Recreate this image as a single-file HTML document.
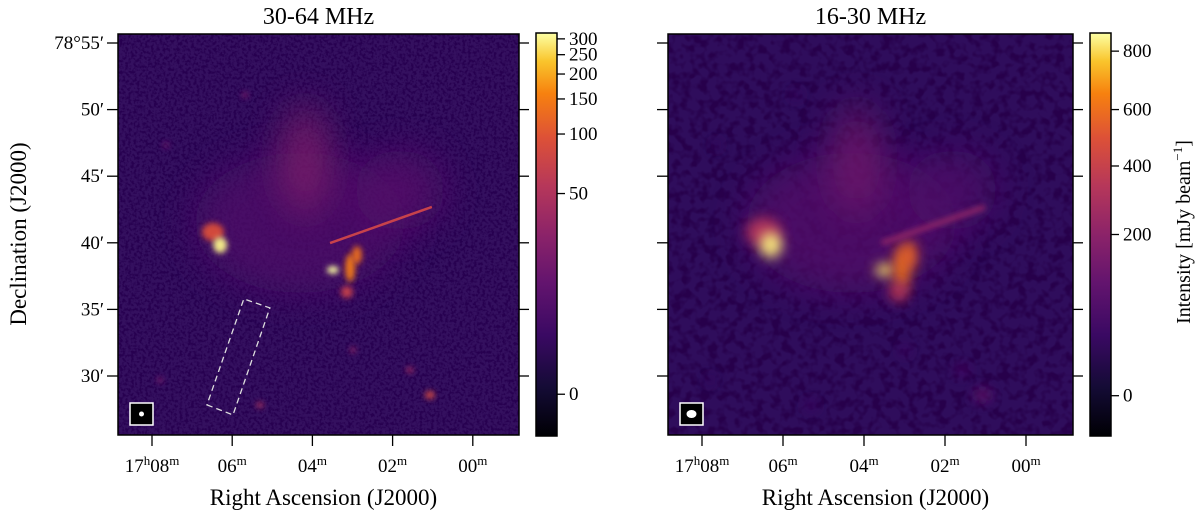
<!DOCTYPE html>
<html><head><meta charset="utf-8">
<style>
html,body{margin:0;padding:0;background:#fff;}
svg{display:block;font-family:"Liberation Serif","DejaVu Serif",serif;}
</style></head>
<body>
<svg id="fig" width="1200" height="519" viewBox="0 0 1200 519" xmlns="http://www.w3.org/2000/svg">
<defs>
  <linearGradient id="inferno" x1="0" y1="1" x2="0" y2="0">
    <stop offset="0" stop-color="#000004"/><stop offset="0.12" stop-color="#140b35"/>
    <stop offset="0.25" stop-color="#3a0963"/><stop offset="0.38" stop-color="#63146e"/>
    <stop offset="0.5" stop-color="#8c2369"/><stop offset="0.62" stop-color="#b6375a"/>
    <stop offset="0.74" stop-color="#dd5137"/><stop offset="0.85" stop-color="#f7810f"/>
    <stop offset="0.93" stop-color="#f9c52c"/><stop offset="1" stop-color="#fcffa4"/>
  </linearGradient>
  <filter id="noise" x="0" y="0" width="100%" height="100%">
    <feTurbulence type="fractalNoise" baseFrequency="0.35" numOctaves="2" seed="3"/>
    <feColorMatrix type="matrix" values="0 0 0 0 0.02  0 0 0 0 0.0  0 0 0 0 0.08  4 0 0 0 -1.7"/>
  </filter>
  <filter id="noise2" x="0" y="0" width="100%" height="100%">
    <feTurbulence type="fractalNoise" baseFrequency="0.11" numOctaves="2" seed="7"/>
    <feColorMatrix type="matrix" values="0 0 0 0 0.02  0 0 0 0 0.0  0 0 0 0 0.07  4 0 0 0 -1.75"/>
  </filter>
  <filter id="blurA" x="-200%" y="-200%" width="500%" height="500%"><feGaussianBlur stdDeviation="3"/></filter>
  <filter id="blurB" x="-200%" y="-200%" width="500%" height="500%"><feGaussianBlur stdDeviation="6"/></filter>
  <filter id="blurBig" x="-100%" y="-100%" width="300%" height="300%"><feGaussianBlur stdDeviation="18"/></filter>
  <clipPath id="clipL"><rect x="118" y="34" width="401" height="401"/></clipPath>
  <clipPath id="clipR"><rect x="668" y="34" width="405" height="401"/></clipPath>
</defs>
<g id="root"></g>
</svg>
<script>
// ---- data ----
const srcNames = ['diffuse-halo','north-plume','west-lobe','east-lobe-blob','east-core','central-core','jet-a','jet-b','jet-tail','spot-1','spot-2','spot-3','spot-4','spot-5','spot-6','spot-7'];
const srcRA   = [4.31, 4.18, 1.82, 6.48, 6.30, 3.49, 3.06, 2.89, 3.14, 7.65, 5.68, 7.80, 1.07, 1.57, 2.99, 5.31];
const srcDec  = [41.50,46.22,43.96,40.81,39.83,37.96,38.11,39.08,36.31,47.34,51.10,29.70,28.57,30.45,31.95,27.82];
const fluxHigh = [12, 28, 14, 90, 300, 320, 150, 130, 70, 20, 25, 25, 80, 40, 35, 45];
const fluxLow  = [120, 170, 110, 330, 850, 820, 600, 560, 350, 60, 70, 60, 150, 110, 90, 80];
const jetRA  = [3.56, 1.02];
const jetDec = [39.98, 42.69];
const jetHigh = 70, jetLow = 220;
const regionRA  = [6.63, 5.98, 5.06, 5.71];
const regionDec = [27.83, 27.08, 35.11, 35.79];
const raTicks = [8, 6, 4, 2, 0];
const raLabels = [['17','h','08','m'],['','','06','m'],['','','04','m'],['','','02','m'],['','','00','m']];
const decTicks = [55, 50, 45, 40, 35, 30];
const decLabels = ["78°55′","50′","45′","40′","35′","30′"];
const cbHighTicks = [0, 50, 100, 150, 200, 250, 300];
const cbLowTicks = [0, 200, 400, 600, 800];
const cbLowStretchV = [-150, 0, 200, 400, 600, 800, 900];
const cbLowStretchF = [0, 0.1, 0.5, 0.67, 0.81, 0.955, 1.0];

// ---- helpers ----
const NS = 'http://www.w3.org/2000/svg';
const root = document.getElementById('root');
function mk(tag, attrs, parent){ const e=document.createElementNS(NS,tag); for(const k in attrs) e.setAttribute(k,attrs[k]); (parent||root).appendChild(e); return e; }
const panels = [{x0:118,w:401,clip:'clipL',cbX:536,name:'high'},{x0:668,w:405,clip:'clipR',cbX:1090,name:'low'}];
const Y0=34, H=401;
function xOf(p, ra){ return p.x0 + 34 + (8-ra)*40.1*(p.w/401); }
function yOf(dec){ return 43 + (55-dec)*13.32; }
const infStops=[[0,[0,0,4]],[.12,[20,11,53]],[.25,[58,9,99]],[.38,[99,20,110]],[.5,[140,35,105]],[.62,[182,55,90]],[.74,[221,81,55]],[.85,[247,129,15]],[.93,[249,197,44]],[1,[252,255,164]]];
function inferno(t){ t=Math.max(0,Math.min(1,t)); for(let i=1;i<infStops.length;i++){ if(t<=infStops[i][0]){ const a=infStops[i-1],b=infStops[i]; const f=(t-a[0])/(b[0]-a[0]); const c=a[1].map((v,k)=>Math.round(v+(b[1][k]-v)*f)); return `rgb(${c})`; } } return 'rgb(252,255,164)'; }
function stretchHigh(v){ const a=10, vmin=-5, vmax=321; const s=x=>Math.asinh(x/a); return (s(v)-s(vmin))/(s(vmax)-s(vmin)); }
function stretchLow(v){ for(let i=1;i<cbLowStretchV.length;i++){ if(v<=cbLowStretchV[i]){ const f=(v-cbLowStretchV[i-1])/(cbLowStretchV[i]-cbLowStretchV[i-1]); return cbLowStretchF[i-1]+f*(cbLowStretchF[i]-cbLowStretchF[i-1]); } } return 1; }
const srcSize = [[105,70],[24,55],[45,40],[11,9],[7,8],[6,4],[5,14],[5,9],[6,6],[3,3],[3,3],[3,3],[5,4],[4,3],[3,3],[4,3]];

panels.forEach((p,pi)=>{
  const flux = pi===0 ? fluxHigh : fluxLow;
  const st = pi===0 ? stretchHigh : stretchLow;
  const g = mk('g',{'clip-path':`url(#${p.clip})`});
  
  
  mk('rect',{x:p.x0,y:Y0,width:p.w,height:H,fill:pi===0?'#34105f':'#2f0d5c'},g);
  mk('rect',{x:p.x0,y:Y0,width:p.w,height:H,filter:pi===0?'url(#noise)':'url(#noise2)'},g);
  const blurScale = pi===0?1:1.6;
  srcRA.forEach((ra,i)=>{
    const big = srcSize[i][0]>20;
    const e = mk('ellipse',{cx:xOf(p,ra),cy:yOf(srcDec[i]),rx:srcSize[i][0]*(big?1:blurScale),ry:srcSize[i][1]*(big?1:blurScale),
      fill:inferno(st(flux[i])), opacity: big?0.7:0.95, filter: big?'url(#blurBig)':(pi===0?'url(#blurA)':'url(#blurB)')},g);
    
    
  });
  const jet = mk('line',{x1:xOf(p,jetRA[0]),y1:yOf(jetDec[0]),x2:xOf(p,jetRA[1]),y2:yOf(jetDec[1]),
    stroke:inferno(st(pi===0?jetHigh:jetLow)),'stroke-width':pi===0?2.5:5,filter:pi===0?'':'url(#blurA)'},g);
  
  
  const bx = p.x0+12, by = 403;
  const beam = mk('rect',{x:bx,y:by,width:23,height:22,fill:'#000',stroke:'#fff','stroke-width':1.5});
  
  
  mk('ellipse',{cx:bx+11.5,cy:by+11,rx:pi===0?2.5:5,ry:pi===0?2.5:4,fill:'#fff'});
  const fr = mk('rect',{x:p.x0,y:Y0,width:p.w,height:H,fill:'none',stroke:'#000','stroke-width':1.5});
  
  
  raTicks.forEach((ra,i)=>{
    const x=xOf(p,ra);
    mk('line',{x1:x,y1:435,x2:x,y2:446,stroke:'#000','stroke-width':1.3});
    const t=mk('text',{x:x,y:472,'text-anchor':'middle','font-size':19});
    
    
    const L=raLabels[i];
    if(L[0]){ const a=mk('tspan',{},t); a.textContent=L[0]; const b=mk('tspan',{'font-size':13,dy:-7},t); b.textContent=L[1]; const c=mk('tspan',{dy:7},t); c.textContent=L[2]; }
    else { const c=mk('tspan',{},t); c.textContent=L[2]; }
    const d=mk('tspan',{'font-size':13,dy:-7},t); d.textContent=L[3];
  });
  decTicks.forEach((dec,i)=>{
    const y=yOf(dec);
    mk('line',{x1:p.x0-11,y1:y,x2:p.x0,y2:y,stroke:'#000','stroke-width':1.3});
    mk('line',{x1:p.x0+p.w,y1:y,x2:p.x0+p.w+10,y2:y,stroke:'#000','stroke-width':1.3});
    if(pi===0){ const t=mk('text',{x:p.x0-14,y:y+6,'text-anchor':'end','font-size':19}); t.textContent=decLabels[i];
        }
  });
  const title=mk('text',{x:p.x0+p.w/2,y:24,'text-anchor':'middle','font-size':24});
  title.textContent = pi===0?'30-64 MHz':'16-30 MHz';
  
  
  const xl=mk('text',{x:p.x0+p.w/2+5,y:505,'text-anchor':'middle','font-size':23});
  xl.textContent='Right Ascension (J2000)';
  
  
  const cb=mk('rect',{x:p.cbX,y:33,width:21,height:403,fill:'url(#inferno)',stroke:'#000','stroke-width':1.5});
  
  
  const ticks = pi===0?cbHighTicks:cbLowTicks;
  ticks.forEach(v=>{
    const y=436-403*st(v);
    mk('line',{x1:p.cbX+21,y1:y,x2:p.cbX+29,y2:y,stroke:'#000','stroke-width':1.3});
    const t=mk('text',{x:p.cbX+33,y:y+6,'font-size':19}); t.textContent=String(v);
     
  });
});
const pts = regionRA.map((ra,i)=>`${xOf(panels[0],ra)},${yOf(regionDec[i])}`).join(' ');
const dr = mk('polygon',{points:pts,fill:'none',stroke:'#ddd','stroke-width':1.3,'stroke-dasharray':'6,4'});


const yl=mk('text',{transform:'translate(26,234) rotate(-90)','text-anchor':'middle','font-size':23});
yl.textContent='Declination (J2000)';


const cl=mk('text',{transform:'translate(1190,232) rotate(-90)','text-anchor':'middle','font-size':20});
cl.textContent='Intensity [mJy beam';
const sup=mk('tspan',{'font-size':13,dy:-8},cl); sup.textContent='−1';
const cl2=mk('tspan',{dy:8},cl); cl2.textContent=']';


</script>
</body></html>
